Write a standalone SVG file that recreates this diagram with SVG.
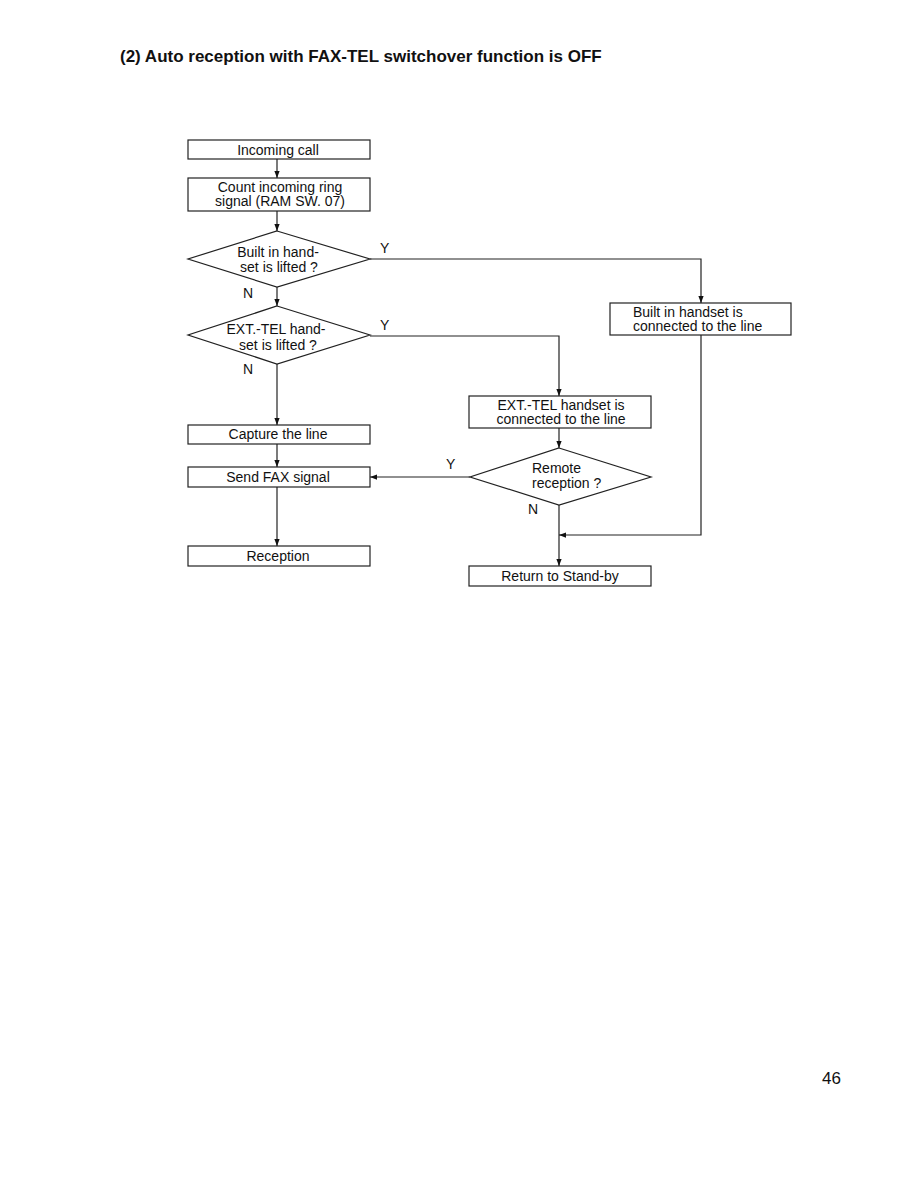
<svg xmlns="http://www.w3.org/2000/svg" width="918" height="1188" viewBox="0 0 918 1188">
<defs>
<style>
.b{fill:#fff;stroke:#222;stroke-width:1.2}
.c{fill:none;stroke:#222;stroke-width:1.2}
text{font-family:"Liberation Sans",Arial,sans-serif;font-size:14px;fill:#111}
.m{text-anchor:middle}
</style>
<marker id="a" viewBox="0 0 8 8" refX="8" refY="4" markerWidth="7" markerHeight="7" orient="auto" markerUnits="userSpaceOnUse"><path d="M0,1 L8,4 L0,7 z" fill="#111"/></marker>
</defs>
<rect width="918" height="1188" fill="#fff"/>
<text x="120" y="62" style="font-size:17px;font-weight:bold">(2) Auto reception with FAX-TEL switchover function is OFF</text>
<g id="connectors">
<path class="c" d="M277,159 V178" marker-end="url(#a)"/>
<path class="c" d="M277,211 V231" marker-end="url(#a)"/>
<path class="c" d="M277,287 V306" marker-end="url(#a)"/>
<path class="c" d="M370,259 H701 V303" marker-end="url(#a)"/>
<path class="c" d="M370,336 H559 V396" marker-end="url(#a)"/>
<path class="c" d="M277,364 V425" marker-end="url(#a)"/>
<path class="c" d="M277,444 V467" marker-end="url(#a)"/>
<path class="c" d="M277,487 V546" marker-end="url(#a)"/>
<path class="c" d="M559,428 V448" marker-end="url(#a)"/>
<path class="c" d="M470,477 H370" marker-end="url(#a)"/>
<path class="c" d="M559,505 V566" marker-end="url(#a)"/>
<path class="c" d="M701,335 V535 H559" marker-end="url(#a)"/>
<text x="380" y="253">Y</text>
<text x="243" y="298">N</text>
<text x="380" y="330">Y</text>
<text x="243" y="374">N</text>
<text x="446" y="469">Y</text>
<text x="528" y="514">N</text>
</g>
<g id="incoming"><rect class="b" x="188" y="140" width="182" height="19"/><text class="m" x="278" y="155">Incoming call</text></g>
<g id="count"><rect class="b" x="188" y="178" width="182" height="33"/><text class="m" x="280" y="192">Count incoming ring</text><text class="m" x="280" y="206">signal (RAM SW. 07)</text></g>
<g id="d1"><polygon class="b" points="277,231 370,259 277,287 188,259"/><text class="m" x="278" y="257">Built in hand-</text><text class="m" x="279" y="272">set is lifted ?</text></g>
<g id="builtin"><rect class="b" x="610" y="303" width="181" height="32"/><text x="633" y="317">Built in handset is</text><text x="633" y="331">connected to the line</text></g>
<g id="d2"><polygon class="b" points="277,306 370,335 277,364 188,335"/><text class="m" x="276" y="334">EXT.-TEL hand-</text><text class="m" x="278" y="350">set is lifted ?</text></g>
<g id="ext"><rect class="b" x="469" y="396" width="182" height="32"/><text class="m" x="561" y="410">EXT.-TEL handset is</text><text class="m" x="561" y="424">connected to the line</text></g>
<g id="capture"><rect class="b" x="188" y="425" width="182" height="19"/><text class="m" x="278" y="439">Capture the line</text></g>
<g id="sendfax"><rect class="b" x="188" y="467" width="182" height="20"/><text class="m" x="278" y="482">Send FAX signal</text></g>
<g id="remote"><polygon class="b" points="559,448 651,477 559,505 470,477"/><text x="532" y="473">Remote</text><text x="532" y="488">reception ?</text></g>
<g id="reception"><rect class="b" x="188" y="546" width="182" height="20"/><text class="m" x="278" y="561">Reception</text></g>
<g id="standby"><rect class="b" x="469" y="566" width="182" height="20"/><text class="m" x="560" y="581">Return to Stand-by</text></g>
<text x="822" y="1084" style="font-size:17px">46</text>
</svg>
